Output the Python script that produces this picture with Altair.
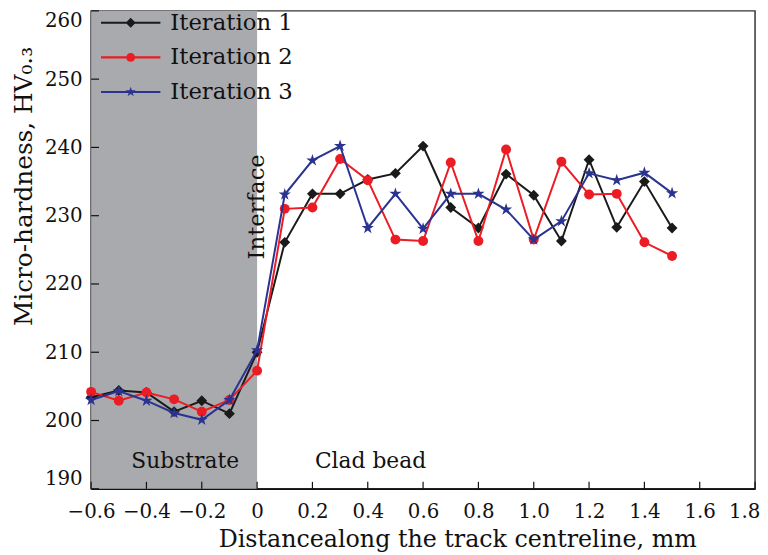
import altair as alt
import pandas as pd

# ---------------- data ----------------
distance = [-0.6, -0.5, -0.4, -0.3, -0.2, -0.1, 0.0, 0.1, 0.2, 0.3, 0.4,
            0.5, 0.6, 0.7, 0.8, 0.9, 1.0, 1.1, 1.2, 1.3, 1.4, 1.5]
iteration_1 = [203.4, 204.4, 204.1, 201.3, 202.9, 201.0, 210.0, 226.1, 233.2, 233.2, 235.3,
               236.2, 240.2, 231.2, 228.2, 236.1, 233.0, 226.3, 238.2, 228.3, 235.0, 228.2]
iteration_2 = [204.2, 202.9, 204.1, 203.1, 201.3, 203.0, 207.3, 231.0, 231.2, 238.3, 235.2,
               226.5, 226.3, 237.8, 226.3, 239.7, 226.5, 237.9, 233.1, 233.2, 226.1, 224.1]
iteration_3 = [203.0, 204.3, 202.9, 201.1, 200.1, 203.0, 210.3, 233.1, 238.1, 240.2, 228.2,
               233.2, 228.1, 233.2, 233.2, 230.9, 226.5, 229.2, 236.2, 235.2, 236.3, 233.3]

series_names = ["Iteration 1", "Iteration 2", "Iteration 3"]
series_colors = ["#1a1a1a", "#ec1c24", "#2b3391"]

x_ticks = [-0.6, -0.4, -0.2, 0.0, 0.2, 0.4, 0.6, 0.8, 1.0, 1.2, 1.4, 1.6, 1.8]
y_ticks = [190, 200, 210, 220, 230, 240, 250, 260]
x_domain = [-0.6, 1.8]
y_domain = [190, 260]

substrate_span = [-0.6, 0.0]
region_labels = ["Substrate", "Clad bead"]
region_label_x = [-0.26, 0.41]
region_label_y = [193.0, 193.0]
interface_label = ["Interface"]
interface_x = [0.0]
interface_y = [231.3]

# ---------------- styling ----------------
W, H = 671, 483
FONT = "DejaVu Serif"

STAR = ("M0,-1L0.225,-0.309L0.951,-0.309L0.363,0.118L0.588,0.809L0,0.382"
        "L-0.588,0.809L-0.363,0.118L-0.951,-0.309L-0.225,-0.309Z")
STAR_SMALL = ("M0,-0.18L0.0405,-0.0556L0.1712,-0.0556L0.0653,0.0212L0.1058,0.1456L0,0.0688"
              "L-0.1058,0.1456L-0.0653,0.0212L-0.1712,-0.0556L-0.0405,-0.0556Z")
BAR = "M-1,-0.034H1V0.034H-1Z"
marker_shapes = ["diamond", "circle", STAR]
marker_sizes = [120, 100, 170]
legend_paths = [
    BAR + "M0,-0.17L0.17,0L0,0.17L-0.17,0Z",
    BAR + "M0.15,0A0.15,0.15,0,1,1,-0.15,0A0.15,0.15,0,1,1,0.15,0Z",
    BAR + STAR_SMALL,
]

rows = []
for name, vals in zip(series_names, [iteration_1, iteration_2, iteration_3]):
    for xv, yv in zip(distance, vals):
        rows.append({"x": xv, "y": yv, "series": name})
df = pd.DataFrame(rows)

xscale = alt.Scale(domain=x_domain, nice=False, zero=False)
yscale = alt.Scale(domain=y_domain, nice=False, zero=False)
color_scale = alt.Scale(domain=series_names, range=series_colors)

x_axis = alt.Axis(
    values=x_ticks, title="Distancealong the track centreline, mm",
    labelExpr="datum.value == 0 ? '0' : format(datum.value, '.1f')",
    labelOffset={"condition": {"test": "datum.value > 1.7", "value": -11}, "value": 0},
    ticks=False, grid=False, domainColor="#111111", domainWidth=1.5,
    labelFont=FONT, labelFontSize=20, labelColor="#111111", labelPadding=13,
    labelOverlap=False, labelBound=False, labelFlush=False,
    titleFont=FONT, titleFontSize=24, titleFontWeight="normal", titleColor="#111111",
    titleX=370, titleY=58, titleBaseline="alphabetic", titleAlign="center",
)
y_axis = alt.Axis(
    values=y_ticks, title="Micro-hardness, HV₀.₃",
    ticks=False, grid=False, domainColor="#111111", domainWidth=1.5,
    labelFont=FONT, labelFontSize=20, labelColor="#111111", labelPadding=9,
    labelOverlap=False, labelBound=False, labelFlush=True,
    titleFont=FONT, titleFontSize=25, titleFontWeight="normal", titleColor="#111111",
    titleAngle=270, titleX=-68, titleY=177, titleAlign="center", titleBaseline="middle",
)


def X(field):
    return alt.X(field, scale=xscale, axis=x_axis)


def Y(field):
    return alt.Y(field, scale=yscale, axis=y_axis)


bg = alt.Chart(pd.DataFrame({"x0": [substrate_span[0]], "x1": [substrate_span[1]]})).mark_rect(
    color="#a9aaad"
).encode(
    x=X("x0:Q"),
    x2="x1:Q",
    y=alt.value(0),
    y2=alt.value(H),
)

xtick_layer = alt.Chart(pd.DataFrame({"t": x_ticks})).mark_rule(color="#111111", strokeWidth=1.2).encode(
    x=X("t:Q"),
    y=alt.value(H),
    y2=alt.value(H - 7),
)
ytick_layer = alt.Chart(pd.DataFrame({"t": y_ticks})).mark_rule(color="#111111", strokeWidth=1.2).encode(
    y=Y("t:Q"),
    x=alt.value(0),
    x2=alt.value(8),
)

series_layers = []
for name, col, shp, sz in zip(series_names, series_colors, marker_shapes, marker_sizes):
    base = alt.Chart(df).transform_filter(alt.datum.series == name)
    line = base.mark_line(strokeWidth=2, color=col).encode(x=X("x:Q"), y=Y("y:Q"))
    pts = base.mark_point(shape=shp, filled=True, size=sz, opacity=1, color=col).encode(
        x=X("x:Q"), y=Y("y:Q")
    )
    series_layers += [line, pts]

legend_cfg = alt.Legend(
    title=None, orient="none", legendX=10, legendY=-5, padding=0,
    symbolSize=3600, symbolStrokeWidth=0, clipHeight=34, rowPadding=1,
    labelFont=FONT, labelFontSize=23, labelColor="#111111", labelOffset=10,
)
legend_layer = alt.Chart(df).transform_calculate(yo="1000").mark_point(
    filled=True, clip=True, opacity=1
).encode(
    x=X("x:Q"),
    y=Y("yo:Q"),
    color=alt.Color("series:N", scale=color_scale, legend=legend_cfg),
    shape=alt.Shape("series:N", scale=alt.Scale(domain=series_names, range=legend_paths), legend=legend_cfg),
)

region_df = pd.DataFrame({"label": region_labels, "x": region_label_x, "y": region_label_y})
region_text = alt.Chart(region_df).mark_text(
    font=FONT, fontSize=22, color="#111111", align="center", baseline="alphabetic"
).encode(x=X("x:Q"), y=Y("y:Q"), text="label:N")

iface_df = pd.DataFrame({"label": interface_label, "x": interface_x, "y": interface_y})
iface_text = alt.Chart(iface_df).mark_text(
    font=FONT, fontSize=23, color="#111111", align="center", baseline="alphabetic", angle=270, dy=7
).encode(x=X("x:Q"), y=Y("y:Q"), text="label:N")

chart = alt.layer(
    bg, xtick_layer, ytick_layer, *series_layers, legend_layer, region_text, iface_text
).properties(
    width=W, height=H,
    padding={"left": 84, "top": 0, "right": 5, "bottom": 63},
    autosize=alt.AutoSizeParams(type="none"),
    background="white",
).configure_view(stroke="#333333", strokeWidth=1.5)

chart.save("out.html", embed_options={"renderer": "svg", "actions": False})
